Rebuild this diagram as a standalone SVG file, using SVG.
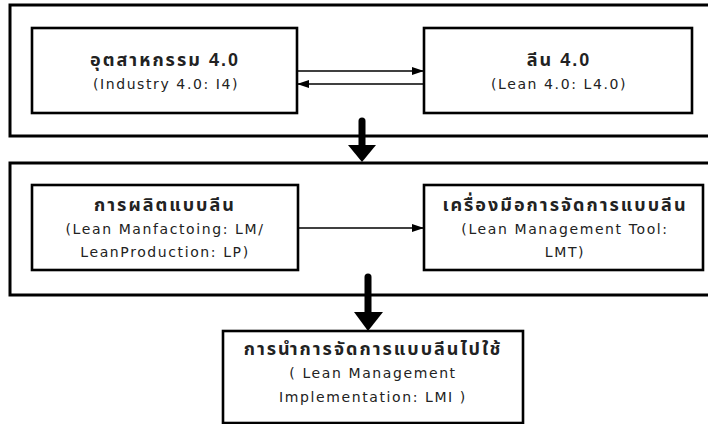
<svg xmlns="http://www.w3.org/2000/svg" width="708" height="424" viewBox="0 0 708 424">
<style>
.outer{fill:none;stroke:#000;stroke-width:3}
.box{fill:#fff;stroke:#000;stroke-width:2.6}
.th{font-family:"Liberation Sans","Noto Sans Thai","Noto Sans","DejaVu Sans",sans-serif;font-size:18px;font-weight:bold;text-anchor:middle;fill:#222;letter-spacing:2px}
.en{font-family:"DejaVu Sans","Liberation Sans",sans-serif;font-size:14px;text-anchor:middle;fill:#222;letter-spacing:1.6px}
.ln{stroke:#000;stroke-width:1.5;fill:none}
.big{stroke:#000;stroke-width:7;stroke-linecap:round}
</style>
<defs>
<marker id="ah" markerWidth="12" markerHeight="8" refX="12" refY="4" orient="auto" markerUnits="userSpaceOnUse">
<path d="M0,0 L12,4 L0,8 Z" fill="#000"/>
</marker>
</defs>
<rect width="708" height="424" fill="#fff"/>
<g id="group-top"><rect class="outer" x="10" y="5" width="710" height="131"/></g>
<g id="group-mid"><rect class="outer" x="10" y="163" width="710" height="132"/></g>
<g id="n-industry">
<rect class="box" x="32" y="28" width="265" height="85"/>
<text class="th" x="165" y="66">อุตสาหกรรม 4.0</text>
<text class="en" x="166" y="89">(Industry 4.0: I4)</text>
</g>
<g id="n-lean">
<rect class="box" x="424" y="28" width="268" height="85"/>
<text class="th" x="559" y="66">ลีน 4.0</text>
<text class="en" x="559" y="89">(Lean 4.0: L4.0)</text>
</g>
<g id="n-lm">
<rect class="box" x="32" y="185" width="266" height="85"/>
<text class="th" x="165" y="211">การผลิตแบบลีน</text>
<text class="en" x="165" y="234">(Lean Manfactoing: LM/</text>
<text class="en" x="165" y="257">LeanProduction: LP)</text>
</g>
<g id="n-lmt">
<rect class="box" x="424" y="185" width="279" height="85"/>
<text class="th" x="565" y="211">เครื่องมือการจัดการแบบลีน</text>
<text class="en" x="565" y="234">(Lean Management Tool:</text>
<text class="en" x="565" y="257">LMT)</text>
</g>
<g id="n-lmi">
<rect class="box" x="223" y="331" width="300" height="92"/>
<text class="th" x="373" y="355">การนำการจัดการแบบลีนไปใช้</text>
<text class="en" x="373" y="378">( Lean Management</text>
<text class="en" x="373" y="402">Implementation: LMI )</text>
</g>
<g id="connectors">
<line class="ln" x1="297" y1="71" x2="424" y2="71" marker-end="url(#ah)"/>
<line class="ln" x1="424" y1="84" x2="297" y2="84" marker-end="url(#ah)"/>
<line class="ln" x1="298" y1="228" x2="424" y2="228" marker-end="url(#ah)"/>
<line class="big" x1="362" y1="121" x2="362" y2="146"/>
<path d="M348,145 L376,145 L362,162 Z" fill="#000"/>
<line class="big" x1="368" y1="277" x2="368" y2="313"/>
<path d="M354,312 L383,312 L368,331 Z" fill="#000"/>
</g>
</svg>
